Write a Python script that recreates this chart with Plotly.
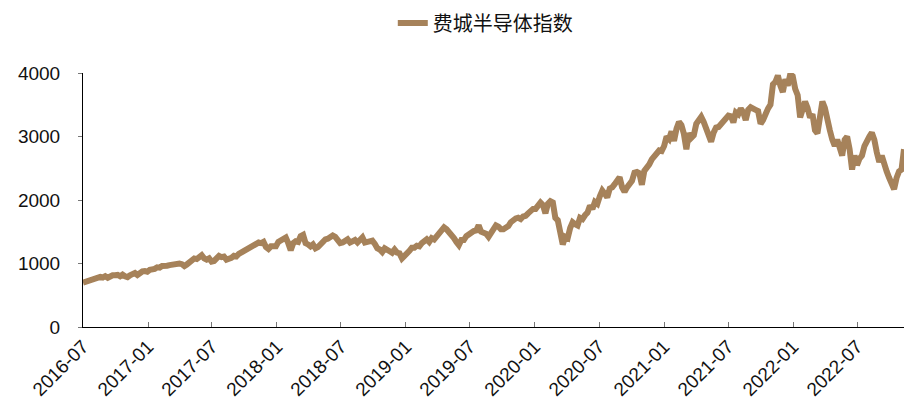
import pandas as pd
import plotly.graph_objects as go

series_name = "费城半导体指数"

v2016 = [700, 715, 740, 755, 760, 775, 785, 790, 780, 800, 775, 800, 815, 815,
         820, 800, 825, 800, 785, 815, 840, 850, 820, 860, 875, 880, 870]
v2017 = [900, 905, 915, 940, 935, 960, 975, 965, 975, 985, 995, 985, 1000,
         990, 960, 985, 1010, 1040, 1080, 1070, 1090, 1130, 1080, 1060, 1080, 1030,
         1040, 1100, 1120, 1100, 1110, 1060, 1070, 1090, 1120, 1110, 1150, 1170, 1190,
         1210, 1230, 1250, 1290, 1310, 1330, 1320, 1340, 1260, 1230, 1270, 1280, 1270]
v2018 = [1340, 1370, 1400, 1410, 1320, 1210, 1320, 1350, 1340, 1430, 1450, 1320, 1300,
         1270, 1300, 1240, 1260, 1300, 1370, 1380, 1390, 1410, 1440, 1420, 1360, 1320,
         1330, 1370, 1380, 1330, 1350, 1370, 1330, 1390, 1410, 1330, 1340, 1350, 1360,
         1310, 1240, 1220, 1180, 1240, 1210, 1180, 1170, 1220, 1170, 1160, 1080, 1120]
v2019 = [1150, 1200, 1250, 1250, 1280, 1270, 1320, 1360, 1380, 1340, 1400, 1380, 1420,
         1480, 1500, 1570, 1540, 1500, 1430, 1400, 1340, 1290, 1370, 1370, 1430, 1460,
         1480, 1510, 1520, 1600, 1500, 1480, 1470, 1420, 1470, 1540, 1600, 1580, 1540,
         1540, 1570, 1590, 1650, 1690, 1710, 1720, 1700, 1740, 1750, 1790, 1830, 1860]
v2020 = [1860, 1910, 1960, 1920, 1790, 1940, 1980, 1960, 1720, 1680, 1520, 1300, 1420,
         1400, 1560, 1650, 1620, 1600, 1720, 1700, 1760, 1800, 1910, 1860, 1970, 1940,
         2060, 2150, 2100, 2040, 2180, 2200, 2250, 2310, 2360, 2200, 2130, 2200, 2250,
         2300, 2430, 2440, 2420, 2240, 2460, 2500, 2560, 2640, 2700, 2730, 2780, 2770]
v2021 = [2850, 3000, 2960, 3080, 2930, 3120, 3230, 3180, 3040, 2800, 3050, 2980, 3020,
         3200, 3260, 3310, 3230, 3140, 3030, 2920, 3060, 3140, 3150, 3200, 3240, 3300,
         3330, 3320, 3220, 3380, 3350, 3440, 3380, 3260, 3420, 3460, 3450, 3420, 3400,
         3200, 3260, 3380, 3440, 3500, 3820, 3860, 3960, 3800, 3700, 3900, 3800, 3980, 3950]
v2022 = [3750, 3650, 3300, 3420, 3550, 3450, 3300, 3350, 3100, 3050, 3400, 3550,
         3450, 3200, 3100, 2950, 2850, 2950, 2800, 2700, 2950, 3000, 2800, 2480, 2700,
         2550, 2650, 2700, 2850, 2950, 3000, 3060, 2950, 2750, 2600, 2700, 2550, 2450, 2350,
         2250, 2170, 2350, 2450, 2480, 2800]

values = v2016 + v2017 + v2018 + v2019 + v2020 + v2021 + v2022
dates = pd.date_range("2016-07-01", periods=len(values), freq="7D")

tick_labels = ["2016-07", "2017-01", "2017-07", "2018-01", "2018-07", "2019-01",
               "2019-07", "2020-01", "2020-07", "2021-01", "2021-07", "2022-01", "2022-07"]
tick_vals = [pd.Timestamp(t + "-01") for t in tick_labels]
y_ticks = [0, 1000, 2000, 3000, 4000]

color = "#A6825A"
font_family = "Liberation Sans, Arial, sans-serif"

fig = go.Figure()
fig.add_trace(go.Scatter(
    x=dates, y=values, mode="lines", name=series_name,
    line=dict(color=color, width=6),
))

fig.update_layout(
    width=904, height=409,
    margin=dict(l=83, r=0, t=73, b=82, autoexpand=False),
    paper_bgcolor="white", plot_bgcolor="white",
    showlegend=True,
    legend=dict(
        orientation="h", x=0.49, xanchor="center",
        y=1.197, yanchor="middle",
        font=dict(family="Noto Sans CJK SC, sans-serif", size=20, color="#111111"),
    ),
    font=dict(family=font_family, size=19, color="#111111"),
)
fig.update_xaxes(
    type="date",
    range=[pd.Timestamp("2016-07-01"), dates[-1]],
    tickvals=tick_vals, ticktext=tick_labels, tickangle=-45,
    ticks="inside", ticklen=5, tickcolor="#777777",
    showline=True, linecolor="black", linewidth=1,
    showgrid=False, zeroline=False,
    tickfont=dict(family=font_family, size=19, color="#111111"),
)
fig.update_yaxes(
    range=[0, 4000], tickvals=y_ticks,
    ticks="outside", ticklen=4, tickcolor="#777777",
    showline=True, linecolor="black", linewidth=1,
    showgrid=False, zeroline=False,
    ticklabelstandoff=14,
    tickfont=dict(family=font_family, size=19, color="#111111"),
)

fig.write_html("out.html")
